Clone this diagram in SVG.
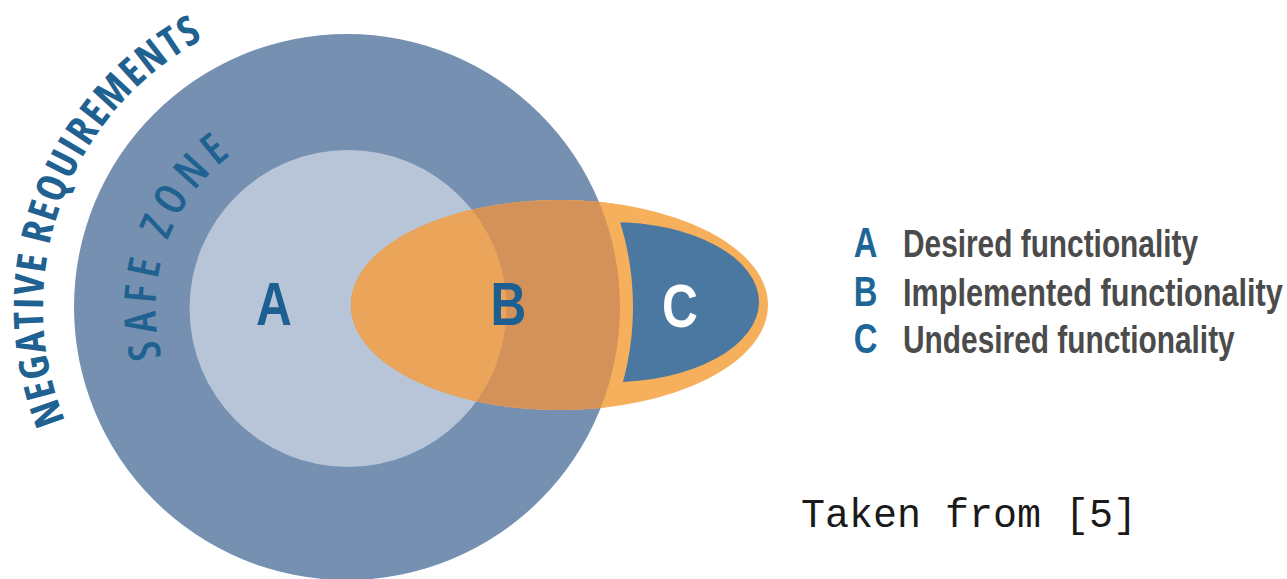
<svg xmlns="http://www.w3.org/2000/svg" xmlns:xlink="http://www.w3.org/1999/xlink" width="1287" height="579" viewBox="0 0 1287 579">
  <style>
    .arc { font-family: "Open Sans", "Liberation Sans", Arial, sans-serif; fill: #1f6191; }
    .big { font-family: "Liberation Sans", Arial, sans-serif; font-weight: bold; font-size: 62px; text-anchor: middle; }
    .leg-key { font-family: "Liberation Sans", Arial, sans-serif; font-weight: bold; font-size: 42px; fill: #1e6698; text-anchor: middle; }
    .leg-txt { font-family: "Liberation Sans", Arial, sans-serif; font-weight: bold; font-size: 38px; fill: #4b4b4b; }
    .caption { font-family: "Liberation Mono", "Courier New", monospace; font-size: 40px; fill: #1a1a1a; }
  </style>
  <defs>
    <circle id="outerC" cx="347" cy="307" r="273"/>
    <circle id="innerC" cx="348" cy="308.5" r="158.5"/>
    <ellipse id="implE" cx="559.5" cy="305" rx="208.5" ry="105"/>
    <clipPath id="clipOuter"><use xlink:href="#outerC"/></clipPath>
    <clipPath id="clipInner"><use xlink:href="#innerC"/></clipPath>
    <clipPath id="clipE"><use xlink:href="#implE"/></clipPath>
    <path id="nrPath" d="M65.14 420.88 A304 304 0 0 1 243.03 21.33"/>
    <path id="szPath" d="M162.04 357.19 A192 192 0 0 1 281.83 127.08"/>
  </defs>

  <g id="negative-requirements">
    <use xlink:href="#outerC" fill="#7590b1"/>
    <text class="arc" font-size="41" font-weight="700" font-stretch="85%" letter-spacing="1.8"><textPath xlink:href="#nrPath">NEGATIVE REQUIREMENTS</textPath></text>
  </g>

  <g id="safe-zone">
    <use xlink:href="#innerC" fill="#b8c5d8"/>
    <text class="arc" font-size="44" font-weight="600" font-stretch="75%" letter-spacing="7"><textPath xlink:href="#szPath">SAFE ZONE</textPath></text>
  </g>

  <g id="implemented">
    <use xlink:href="#implE" fill="#f6b05c"/>
  </g>

  <g id="undesired">
    <ellipse cx="612" cy="302" rx="147" ry="80" fill="#4b78a1"/>
    <circle cx="347" cy="307" r="286" fill="#f6b05c" clip-path="url(#clipE)"/>
  </g>

  <g id="overlap">
    <use xlink:href="#implE" fill="#d4925a" clip-path="url(#clipOuter)"/>
    <use xlink:href="#implE" fill="#eaa55b" clip-path="url(#clipInner)"/>
  </g>

  <g id="region-labels">
    <text class="big" fill="#1c5f90" transform="translate(274 325) scale(0.8 1)">A</text>
    <text class="big" fill="#1c5f90" transform="translate(508.5 325) scale(0.8 1)">B</text>
    <text class="big" fill="#ffffff" transform="translate(680 326.5) scale(0.8 1)">C</text>
  </g>

  <g id="legend">
    <text class="leg-key" transform="translate(865.5 257) scale(0.78 1)">A</text>
    <text class="leg-txt" transform="translate(903 257) scale(0.785 1)">Desired functionality</text>
    <text class="leg-key" transform="translate(865.5 305.5) scale(0.78 1)">B</text>
    <text class="leg-txt" transform="translate(903 305.5) scale(0.807 1)">Implemented functionality</text>
    <text class="leg-key" transform="translate(865.5 352.5) scale(0.78 1)">C</text>
    <text class="leg-txt" transform="translate(903 353) scale(0.786 1)">Undesired functionality</text>
  </g>

  <g id="caption">
    <text class="caption" x="801" y="527">Taken from [5]</text>
  </g>
</svg>
